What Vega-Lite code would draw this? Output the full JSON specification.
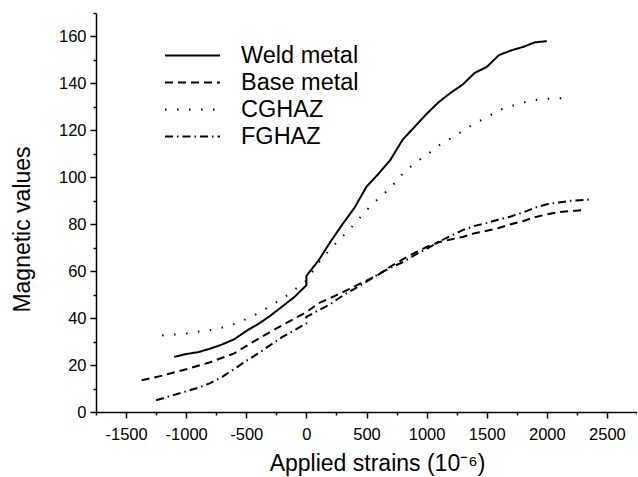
{
  "$schema": "https://vega.github.io/schema/vega-lite/v6.json",
  "autosize": "none",
  "padding": {"left": 96, "top": 13, "right": 0, "bottom": 65},
  "width": 541,
  "height": 399,
  "background": "white",
  "config": {
    "view": {"stroke": null},
    "font": "Liberation Sans",
    "axis": {"grid": false, "domainColor": "black", "tickColor": "black", "labelColor": "black", "titleColor": "black", "domainWidth": 1.5, "tickWidth": 1.5, "labelFont": "Liberation Sans", "titleFont": "Liberation Sans", "labelFontSize": 16.5, "titleFontSize": 23, "titleFontWeight": "normal"}
  },
  "data": {"values": [
    {"s": "Weld metal", "x": -1100, "y": 23.5}, {"s": "Weld metal", "x": -1000, "y": 24.7}, {"s": "Weld metal", "x": -900, "y": 25.5}, {"s": "Weld metal", "x": -800, "y": 27}, {"s": "Weld metal", "x": -700, "y": 28.8}, {"s": "Weld metal", "x": -600, "y": 31}, {"s": "Weld metal", "x": -500, "y": 34.5}, {"s": "Weld metal", "x": -400, "y": 37.5}, {"s": "Weld metal", "x": -300, "y": 41}, {"s": "Weld metal", "x": -200, "y": 45}, {"s": "Weld metal", "x": -100, "y": 49}, {"s": "Weld metal", "x": 0, "y": 54}, {"s": "Weld metal", "x": 0, "y": 58}, {"s": "Weld metal", "x": 100, "y": 64.5}, {"s": "Weld metal", "x": 200, "y": 72.5}, {"s": "Weld metal", "x": 300, "y": 80}, {"s": "Weld metal", "x": 400, "y": 87}, {"s": "Weld metal", "x": 500, "y": 96}, {"s": "Weld metal", "x": 600, "y": 101.5}, {"s": "Weld metal", "x": 700, "y": 107.5}, {"s": "Weld metal", "x": 800, "y": 116}, {"s": "Weld metal", "x": 900, "y": 121.5}, {"s": "Weld metal", "x": 1000, "y": 127}, {"s": "Weld metal", "x": 1100, "y": 132}, {"s": "Weld metal", "x": 1200, "y": 136}, {"s": "Weld metal", "x": 1300, "y": 139.5}, {"s": "Weld metal", "x": 1400, "y": 144.5}, {"s": "Weld metal", "x": 1500, "y": 147}, {"s": "Weld metal", "x": 1600, "y": 152}, {"s": "Weld metal", "x": 1700, "y": 154}, {"s": "Weld metal", "x": 1800, "y": 155.5}, {"s": "Weld metal", "x": 1900, "y": 157.5}, {"s": "Weld metal", "x": 2000, "y": 158},
    {"s": "Base metal", "x": -1370, "y": 13.5}, {"s": "Base metal", "x": -1200, "y": 15.5}, {"s": "Base metal", "x": -1000, "y": 18.2}, {"s": "Base metal", "x": -800, "y": 21.2}, {"s": "Base metal", "x": -600, "y": 25}, {"s": "Base metal", "x": -400, "y": 31.2}, {"s": "Base metal", "x": -200, "y": 37}, {"s": "Base metal", "x": -100, "y": 39.8}, {"s": "Base metal", "x": 0, "y": 42.5}, {"s": "Base metal", "x": 100, "y": 46.3}, {"s": "Base metal", "x": 200, "y": 48.6}, {"s": "Base metal", "x": 300, "y": 51}, {"s": "Base metal", "x": 400, "y": 53.5}, {"s": "Base metal", "x": 500, "y": 56}, {"s": "Base metal", "x": 600, "y": 58.5}, {"s": "Base metal", "x": 700, "y": 62}, {"s": "Base metal", "x": 800, "y": 65}, {"s": "Base metal", "x": 900, "y": 67.8}, {"s": "Base metal", "x": 1000, "y": 70.3}, {"s": "Base metal", "x": 1100, "y": 72.3}, {"s": "Base metal", "x": 1200, "y": 73.5}, {"s": "Base metal", "x": 1300, "y": 74.6}, {"s": "Base metal", "x": 1400, "y": 76.2}, {"s": "Base metal", "x": 1500, "y": 77.2}, {"s": "Base metal", "x": 1600, "y": 78.4}, {"s": "Base metal", "x": 1700, "y": 80}, {"s": "Base metal", "x": 1800, "y": 81.3}, {"s": "Base metal", "x": 1900, "y": 83}, {"s": "Base metal", "x": 2000, "y": 84.2}, {"s": "Base metal", "x": 2100, "y": 85.2}, {"s": "Base metal", "x": 2200, "y": 85.6}, {"s": "Base metal", "x": 2300, "y": 86},
    {"s": "CGHAZ", "x": -1200, "y": 32.6}, {"s": "CGHAZ", "x": -1100, "y": 33}, {"s": "CGHAZ", "x": -1000, "y": 33.5}, {"s": "CGHAZ", "x": -900, "y": 34.2}, {"s": "CGHAZ", "x": -800, "y": 34.8}, {"s": "CGHAZ", "x": -700, "y": 36}, {"s": "CGHAZ", "x": -600, "y": 37.5}, {"s": "CGHAZ", "x": -500, "y": 39.6}, {"s": "CGHAZ", "x": -400, "y": 42.1}, {"s": "CGHAZ", "x": -300, "y": 45.2}, {"s": "CGHAZ", "x": -200, "y": 48.2}, {"s": "CGHAZ", "x": -100, "y": 52}, {"s": "CGHAZ", "x": 0, "y": 56}, {"s": "CGHAZ", "x": 100, "y": 63.5}, {"s": "CGHAZ", "x": 200, "y": 69.5}, {"s": "CGHAZ", "x": 300, "y": 74.8}, {"s": "CGHAZ", "x": 400, "y": 80}, {"s": "CGHAZ", "x": 500, "y": 86}, {"s": "CGHAZ", "x": 600, "y": 91}, {"s": "CGHAZ", "x": 700, "y": 95.5}, {"s": "CGHAZ", "x": 800, "y": 101.5}, {"s": "CGHAZ", "x": 900, "y": 106}, {"s": "CGHAZ", "x": 1000, "y": 109.5}, {"s": "CGHAZ", "x": 1100, "y": 113.5}, {"s": "CGHAZ", "x": 1200, "y": 116.5}, {"s": "CGHAZ", "x": 1300, "y": 119.7}, {"s": "CGHAZ", "x": 1400, "y": 123}, {"s": "CGHAZ", "x": 1500, "y": 125.5}, {"s": "CGHAZ", "x": 1600, "y": 128.5}, {"s": "CGHAZ", "x": 1700, "y": 130.3}, {"s": "CGHAZ", "x": 1800, "y": 131.8}, {"s": "CGHAZ", "x": 1900, "y": 132.9}, {"s": "CGHAZ", "x": 2000, "y": 133.4}, {"s": "CGHAZ", "x": 2100, "y": 133.7}, {"s": "CGHAZ", "x": 2170, "y": 133.8},
    {"s": "FGHAZ", "x": -1250, "y": 5}, {"s": "FGHAZ", "x": -1100, "y": 7.3}, {"s": "FGHAZ", "x": -1000, "y": 8.8}, {"s": "FGHAZ", "x": -900, "y": 10.3}, {"s": "FGHAZ", "x": -800, "y": 12.3}, {"s": "FGHAZ", "x": -700, "y": 15}, {"s": "FGHAZ", "x": -600, "y": 18.3}, {"s": "FGHAZ", "x": -500, "y": 21.8}, {"s": "FGHAZ", "x": -400, "y": 25}, {"s": "FGHAZ", "x": -300, "y": 28.5}, {"s": "FGHAZ", "x": -200, "y": 32}, {"s": "FGHAZ", "x": -100, "y": 34.8}, {"s": "FGHAZ", "x": 0, "y": 37.8}, {"s": "FGHAZ", "x": 0, "y": 40.5}, {"s": "FGHAZ", "x": 100, "y": 43.3}, {"s": "FGHAZ", "x": 200, "y": 46}, {"s": "FGHAZ", "x": 300, "y": 49.5}, {"s": "FGHAZ", "x": 400, "y": 52.5}, {"s": "FGHAZ", "x": 500, "y": 55.5}, {"s": "FGHAZ", "x": 600, "y": 58.8}, {"s": "FGHAZ", "x": 700, "y": 61.5}, {"s": "FGHAZ", "x": 800, "y": 63.8}, {"s": "FGHAZ", "x": 900, "y": 66.8}, {"s": "FGHAZ", "x": 1000, "y": 69.5}, {"s": "FGHAZ", "x": 1100, "y": 72.5}, {"s": "FGHAZ", "x": 1200, "y": 75}, {"s": "FGHAZ", "x": 1300, "y": 77.5}, {"s": "FGHAZ", "x": 1400, "y": 79.3}, {"s": "FGHAZ", "x": 1500, "y": 80.5}, {"s": "FGHAZ", "x": 1600, "y": 82}, {"s": "FGHAZ", "x": 1700, "y": 83.3}, {"s": "FGHAZ", "x": 1800, "y": 85}, {"s": "FGHAZ", "x": 1900, "y": 87}, {"s": "FGHAZ", "x": 2000, "y": 88.5}, {"s": "FGHAZ", "x": 2100, "y": 89.3}, {"s": "FGHAZ", "x": 2200, "y": 90}, {"s": "FGHAZ", "x": 2350, "y": 90.5}
  ]},
  "mark": {"type": "line", "color": "black", "strokeWidth": 2},
  "encoding": {
    "x": {"field": "x", "type": "quantitative",
      "scale": {"domain": [-1750, 2750], "nice": false, "zero": false},
      "axis": {"title": "Applied strains (10⁻⁶)",
        "values": [-1750, -1500, -1250, -1000, -750, -500, -250, 0, 250, 500, 750, 1000, 1250, 1500, 1750, 2000, 2250, 2500, 2750],
        "tickSize": {"condition": {"test": "datum.value % 500 !== 0", "value": 3}, "value": 6},
        "labelExpr": "datum.value % 500 === 0 ? '' + datum.value : ''",
        "labelPadding": 8, "titlePadding": 10, "titleX": 281, "labelFlush": false, "labelOverlap": false}},
    "y": {"field": "y", "type": "quantitative",
      "scale": {"domain": [0, 170], "nice": false},
      "axis": {"title": "Magnetic values",
        "values": [0, 10, 20, 30, 40, 50, 60, 70, 80, 90, 100, 110, 120, 130, 140, 150, 160, 170],
        "tickSize": {"condition": {"test": "datum.value % 20 !== 0", "value": 3}, "value": 6},
        "labelExpr": "datum.value % 20 === 0 ? '' + datum.value : ''",
        "labelPadding": 4, "titlePadding": 24, "titleY": 216, "labelFlush": false, "labelOverlap": false}},
    "strokeDash": {"field": "s", "type": "nominal",
      "scale": {"domain": ["Weld metal", "Base metal", "CGHAZ", "FGHAZ"], "range": [[1, 0], [8, 5], [1.5, 10.5], [8, 4, 1.5, 4]]},
      "legend": {"title": null, "orient": "none", "legendX": 68, "legendY": 29, "padding": 0,
        "symbolType": "stroke", "symbolSize": 3025, "symbolStrokeWidth": 2, "symbolStrokeColor": "black",
        "clipHeight": 27, "rowPadding": 0, "labelOffset": 20, "labelFontSize": 23.5, "labelColor": "black", "labelFont": "Liberation Sans", "labelLimit": 300}}
  }
}
